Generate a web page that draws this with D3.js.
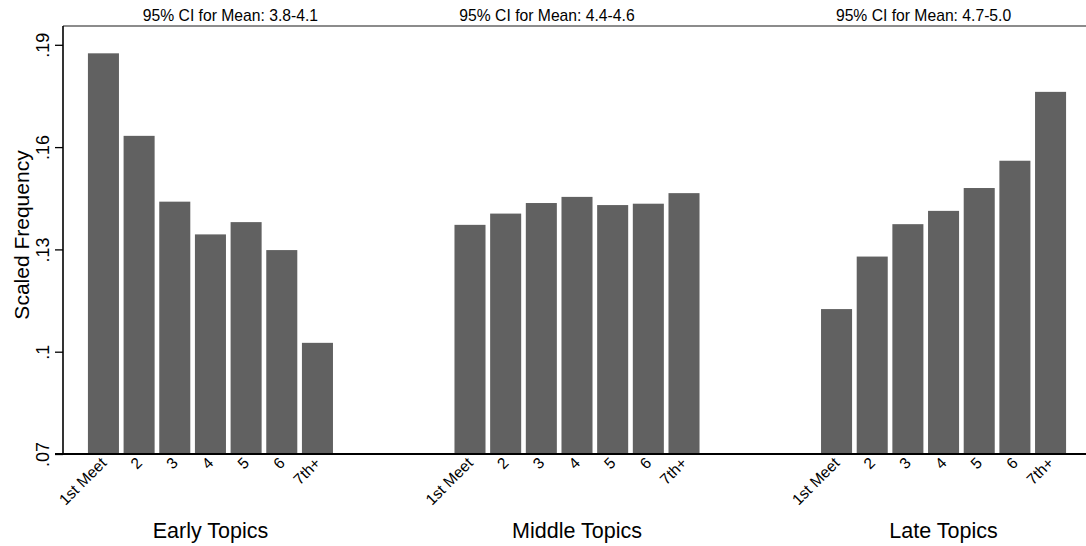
<!DOCTYPE html>
<html>
<head>
<meta charset="utf-8">
<script src="https://cdn.jsdelivr.net/npm/d3@7"></script>
<style>
  html, body { margin: 0; padding: 0; background: #fff; }
  svg { display: block; font-family: Arial, "Liberation Sans", Helvetica, sans-serif; }
</style>
</head>
<body>
<svg id="chart" width="1086" height="546"></svg>
<script>
// Meeting order within each topic group
const categories = ["1st Meet", "2", "3", "4", "5", "6", "7th+"];
const groups = ["Early Topics", "Middle Topics", "Late Topics"];

// Scaled frequency by meeting, one array per topic group
const earlyValues  = [0.1875, 0.1633, 0.1440, 0.1344, 0.1380, 0.1298, 0.1026];
const middleValues = [0.1372, 0.1405, 0.1436, 0.1454, 0.1430, 0.1434, 0.1465];
const lateValues   = [0.1125, 0.1279, 0.1374, 0.1413, 0.1480, 0.1560, 0.1762];

// Confidence interval notes shown above each group
const ciLabels = ["95% CI for Mean: 3.8-4.1", "95% CI for Mean: 4.4-4.6", "95% CI for Mean: 4.7-5.0"];
const ciOffsets = [20, -30, -20];

const yTicks = [0.07, 0.10, 0.13, 0.16, 0.19];
const yTickLabels = [".07", ".1", ".13", ".16", ".19"];

const seriesByGroup = [earlyValues, middleValues, lateValues];

const svg = d3.select("#chart");
const plotLeft = 63, plotRight = 1091, plotTop = 26, plotBottom = 454;

const y = d3.scaleLinear().domain([0.07, 0.19]).range([plotBottom, plotBottom - 0.12 * 3410]);

const x0 = d3.scaleBand().domain(groups).range([plotLeft, plotRight])
  .paddingInner(0.3315).paddingOuter(0.068);
const x1 = d3.scaleBand().domain(categories).range([0, x0.bandwidth()])
  .paddingInner(0.13).paddingOuter(0);

const barColor = "#616161";

// Bars, category labels, group labels and CI notes
groups.forEach((g, gi) => {
  const gx = x0(g);
  const data = categories.map((c, i) => ({ c, v: seriesByGroup[gi][i] }));
  svg.append("g").selectAll("rect").data(data).join("rect")
    .attr("x", d => gx + x1(d.c))
    .attr("y", d => y(d.v))
    .attr("width", x1.bandwidth())
    .attr("height", d => plotBottom - y(d.v))
    .attr("fill", barColor);

  svg.append("g").selectAll("text").data(categories).join("text")
    .attr("transform", c => `translate(${gx + x1(c) + x1.bandwidth() / 2 + 4},${464}) rotate(-45)`)
    .attr("text-anchor", "end")
    .attr("font-size", 15.5)
    .attr("fill", "#000")
    .text(c => c);

  svg.append("text")
    .attr("x", gx + x0.bandwidth() / 2)
    .attr("y", 538)
    .attr("text-anchor", "middle")
    .attr("font-size", 21.5)
    .attr("fill", "#000")
    .text(g);

  svg.append("text")
    .attr("x", gx + x0.bandwidth() / 2 + ciOffsets[gi])
    .attr("y", 21)
    .attr("text-anchor", "middle")
    .attr("font-size", 15.7)
    .attr("fill", "#000")
    .text(ciLabels[gi]);
});

// Top outline of the plot region
svg.append("line")
  .attr("x1", plotLeft).attr("x2", plotRight)
  .attr("y1", plotTop).attr("y2", plotTop)
  .attr("stroke", "#666").attr("stroke-width", 1.5);

// Y axis
const yAxis = d3.axisLeft(y).tickValues(yTicks)
  .tickFormat((d, i) => yTickLabels[i]).tickSize(8).tickSizeOuter(0);
const ya = svg.append("g").attr("transform", `translate(${plotLeft},0)`).call(yAxis);
ya.select(".domain").remove();
ya.selectAll(".tick line").attr("stroke", "#000").attr("stroke-width", 1.3);
ya.selectAll(".tick text")
  .attr("font-size", 18)
  .attr("font-family", "Arial, 'Liberation Sans', sans-serif")
  .attr("fill", "#000")
  .attr("x", null).attr("dy", null)
  .attr("text-anchor", "middle")
  .attr("transform", "translate(-14,0) rotate(-90)");
svg.append("line")
  .attr("x1", plotLeft).attr("x2", plotLeft).attr("y1", plotTop).attr("y2", plotBottom)
  .attr("stroke", "#000").attr("stroke-width", 1.6);

// X baseline
svg.append("line")
  .attr("x1", plotLeft - 8).attr("x2", plotRight).attr("y1", plotBottom).attr("y2", plotBottom)
  .attr("stroke", "#000").attr("stroke-width", 1.8);

// Y axis title
svg.append("text")
  .attr("transform", `translate(29,235) rotate(-90)`)
  .attr("text-anchor", "middle")
  .attr("font-size", 21)
  .attr("fill", "#000")
  .text("Scaled Frequency");
</script>
</body>
</html>
